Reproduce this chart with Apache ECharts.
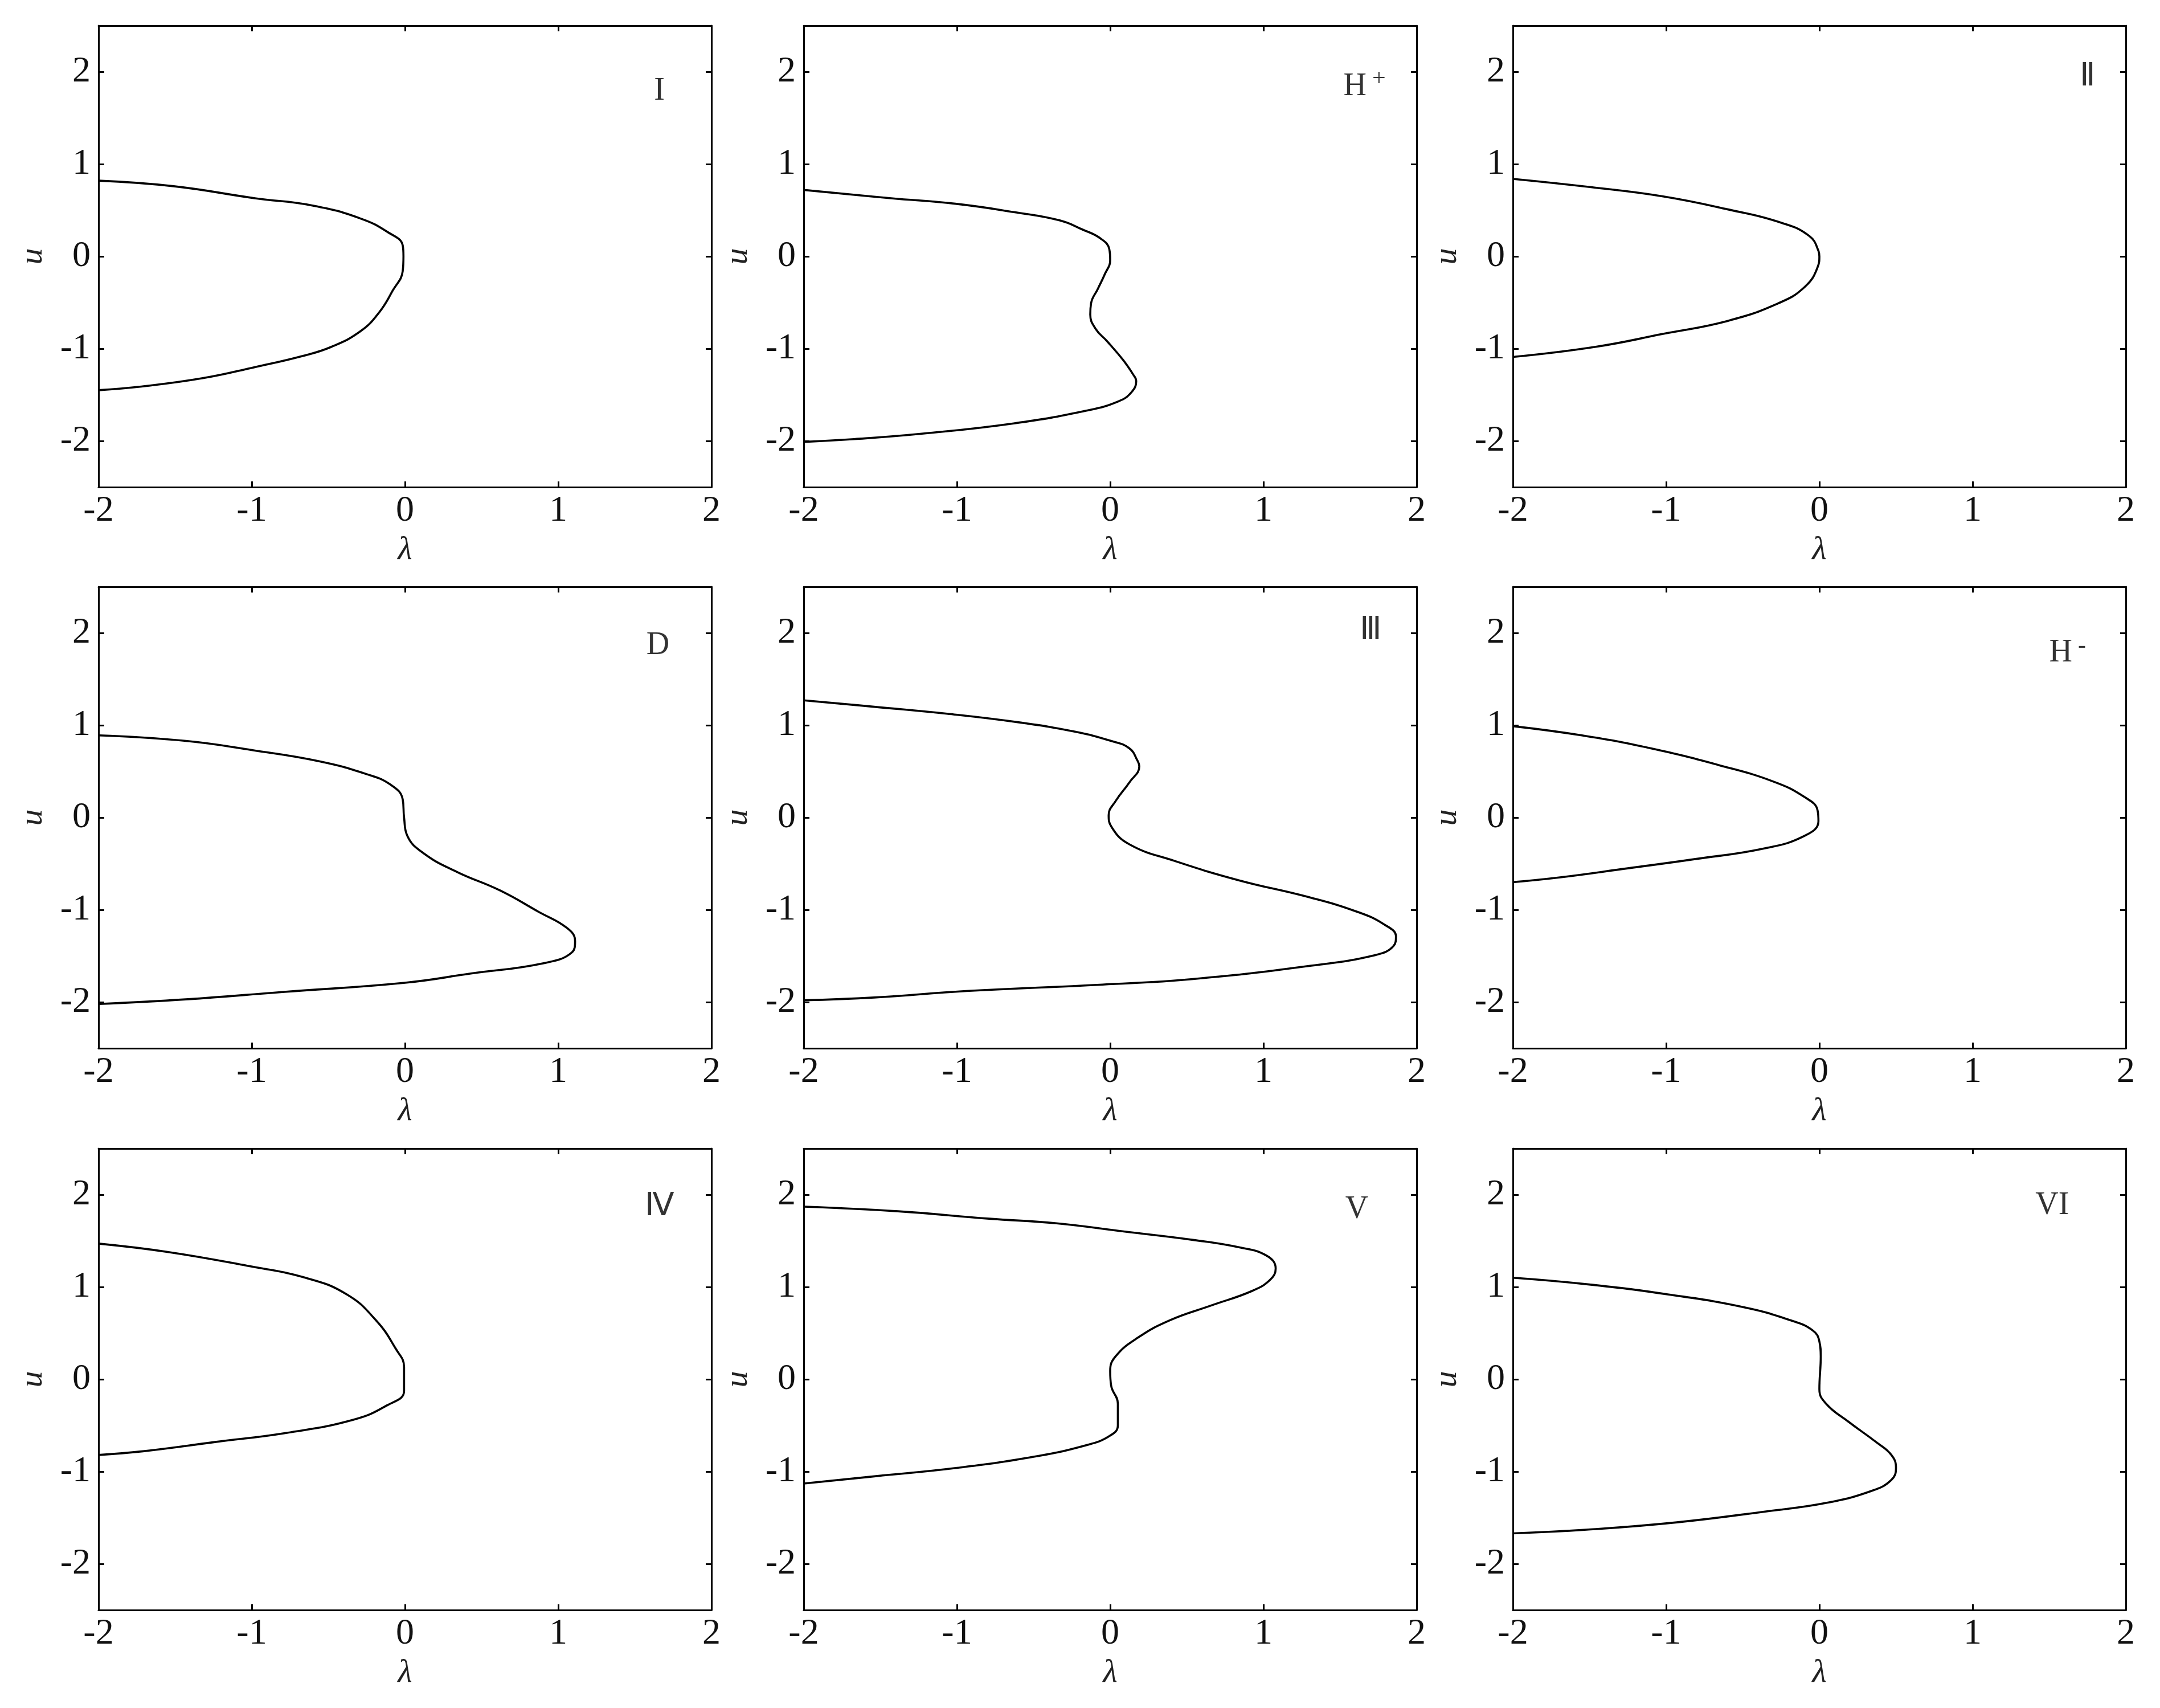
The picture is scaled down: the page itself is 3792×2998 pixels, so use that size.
<!DOCTYPE html>
<html><head><meta charset="utf-8">
<style>html,body{margin:0;padding:0;background:#fff}#c{width:3792px;height:2998px}</style>
<script src="https://cdn.jsdelivr.net/npm/echarts@6/dist/echarts.min.js"></script>
</head><body><div id="c"></div>
<script>
// ---- tick values ----
const lambdaTicks = [-2, -1, 0, 1, 2];
const uTicks = [-2, -1, 0, 1, 2];

// ---- panel labels and their anchor (data units) ----
const panelNames = ['I', 'H+', 'Ⅱ', 'D', 'Ⅲ', 'H-', 'Ⅳ', 'V', 'VI'];
const labelLambda = [1.66, 1.66, 1.75, 1.65, 1.70, 1.62, 1.66, 1.61, 1.52];
const labelU = [1.79, 1.84, 1.94, 1.86, 2.02, 1.78, 1.87, 1.84, 1.88];

// ---- curves: lambda (x) and u (y) ----
const lamI = [-2, -1.51, -0.98, -0.60, -0.29, -0.11, -0.015, -0.01, -0.015, -0.08, -0.17, -0.29, -0.48, -0.67, -0.98, -1.32, -1.72, -2];
const uI   = [0.82, 0.76, 0.63, 0.55, 0.41, 0.26, 0.12, 0, -0.16, -0.37, -0.61, -0.81, -0.98, -1.08, -1.20, -1.32, -1.41, -1.45];

const lamHp = [-2, -1.43, -1.01, -0.63, -0.33, -0.18, -0.065, -0.006, 0, -0.036, -0.08, -0.125, -0.13, -0.095, -0.02, 0.083, 0.15, 0.17, 0.14, 0.055, -0.15, -0.63, -1.22, -1.67, -2];
const uHp   = [0.72, 0.63, 0.57, 0.48, 0.39, 0.29, 0.196, 0.08, -0.04, -0.196, -0.35, -0.51, -0.63, -0.785, -0.92, -1.12, -1.28, -1.35, -1.47, -1.57, -1.67, -1.81, -1.92, -1.98, -2.01];

const lamII = [-2, -1.49, -1.02, -0.60, -0.24, -0.065, -0.006, 0, -0.01, -0.095, -0.27, -0.60, -1.02, -1.46, -2];
const uII   = [0.84, 0.75, 0.65, 0.51, 0.36, 0.22, 0.06, 0, -0.11, -0.33, -0.51, -0.70, -0.84, -0.98, -1.09];

const lamD = [-2, -1.43, -0.995, -0.56, -0.25, -0.093, -0.015, -0.006, 0.015, 0.124, 0.34, 0.62, 0.87, 1.06, 1.11, 1.09, 0.90, 0.43, 0, -0.80, -1.43, -2];
const uD   = [0.89, 0.83, 0.73, 0.61, 0.47, 0.355, 0.197, 0, -0.197, -0.39, -0.59, -0.79, -1.02, -1.20, -1.34, -1.46, -1.58, -1.69, -1.79, -1.89, -1.97, -2.02];

const lamIII = [-2, -1.54, -1.065, -0.59, -0.23, 0.006, 0.125, 0.18, 0.19, 0.125, 0.036, -0.01, 0.006, 0.125, 0.42, 0.84, 1.29, 1.61, 1.79, 1.865, 1.85, 1.73, 1.29, 0.54, -0.05, -0.94, -1.54, -2];
const uIII   = [1.27, 1.20, 1.125, 1.03, 0.93, 0.83, 0.75, 0.61, 0.555, 0.38, 0.18, 0.024, -0.094, -0.29, -0.47, -0.68, -0.86, -1.02, -1.16, -1.29, -1.39, -1.49, -1.61, -1.75, -1.81, -1.88, -1.95, -1.98];

const lamHm = [-2, -1.55, -1.10, -0.66, -0.30, -0.095, -0.012, -0.006, -0.095, -0.36, -0.81, -1.25, -1.70, -2];
const uHm   = [0.99, 0.89, 0.75, 0.57, 0.39, 0.22, 0.08, -0.04, -0.197, -0.335, -0.45, -0.55, -0.65, -0.70];

const lamIV = [-2, -1.55, -1.03, -0.65, -0.38, -0.19, -0.06, -0.006, -0.006, -0.12, -0.34, -0.77, -1.24, -1.71, -2];
const uIV   = [1.47, 1.38, 1.23, 1.10, 0.92, 0.64, 0.33, 0.13, -0.126, -0.285, -0.44, -0.58, -0.68, -0.78, -0.82];

const lamV = [-2, -1.385, -0.79, -0.35, 0.095, 0.54, 0.84, 1.02, 1.08, 1.045, 0.93, 0.66, 0.39, 0.18, 0.036, 0, 0.006, 0.05, 0.05, -0.01, -0.17, -0.50, -1.0, -1.53, -2];
const uV   = [1.87, 1.82, 1.74, 1.69, 1.60, 1.51, 1.43, 1.34, 1.20, 1.08, 0.96, 0.80, 0.64, 0.45, 0.25, 0.09, -0.067, -0.265, -0.50, -0.62, -0.72, -0.84, -0.96, -1.05, -1.13];

const lamVI = [-2, -1.52, -0.99, -0.49, -0.19, -0.044, 0, 0.009, 0, 0.044, 0.19, 0.37, 0.47, 0.50, 0.47, 0.34, 0.044, -0.34, -0.93, -1.52, -2];
const uVI   = [1.10, 1.03, 0.92, 0.78, 0.64, 0.53, 0.41, 0.25, -0.107, -0.265, -0.46, -0.68, -0.82, -0.96, -1.09, -1.21, -1.34, -1.43, -1.55, -1.63, -1.67];

const curves = [[lamI, uI], [lamHp, uHp], [lamII, uII], [lamD, uD], [lamIII, uIII], [lamHm, uHm], [lamIV, uIV], [lamV, uV], [lamVI, uVI]];

// ---- layout (pixels) ----
const colLeft = [173, 1411, 2656];
const rowTop = [45, 1030, 2016];
const plotW = 1076, plotH = 810;

const FONT = 'Liberation Serif';
const lineStyle = { color: '#000', width: 3 };

const grid = [], xAxis = [], yAxis = [], series = [];
for (let i = 0; i < 9; i++) {
  const r = Math.floor(i / 3), c = i % 3;
  grid.push({ left: colLeft[c], top: rowTop[r], width: plotW, height: plotH, containLabel: false });
  const common = {
    type: 'value', gridIndex: i, min: -2, max: 2,
    axisLine: { show: true, onZero: false, lineStyle },
    axisTick: { show: true, inside: true, length: 10, lineStyle, customValues: lambdaTicks },
    splitLine: { show: false }
  };
  xAxis.push(Object.assign({}, common, {
    position: 'bottom',
    name: 'λ', nameLocation: 'middle', nameGap: 82,
    nameTextStyle: { fontFamily: FONT, fontStyle: 'italic', fontSize: 58, color: '#222' },
    axisLabel: { show: true, customValues: lambdaTicks, margin: 10, fontFamily: FONT, fontSize: 64, color: '#111' }
  }));
  xAxis.push(Object.assign({}, common, { position: 'top', axisLabel: { show: false } }));
  const ycommon = {
    type: 'value', gridIndex: i, min: -2.5, max: 2.5,
    axisLine: { show: true, onZero: false, lineStyle },
    axisTick: { show: true, inside: true, length: 10, lineStyle, customValues: uTicks },
    splitLine: { show: false }
  };
  yAxis.push(Object.assign({}, ycommon, {
    position: 'left',
    name: 'u', nameLocation: 'middle', nameGap: 86, nameRotate: 90,
    nameTextStyle: { fontFamily: FONT, fontStyle: 'italic', fontSize: 58, color: '#222' },
    axisLabel: { show: true, customValues: uTicks, margin: 14, fontFamily: FONT, fontSize: 64, color: '#111' }
  }));
  yAxis.push(Object.assign({}, ycommon, { position: 'right', axisLabel: { show: false } }));

  const [lam, u] = curves[i];
  series.push({
    type: 'line', xAxisIndex: 2 * i, yAxisIndex: 2 * i,
    data: lam.map((v, k) => [v, u[k]]),
    showSymbol: false, symbol: 'none', smooth: 0.45,
    lineStyle: { color: '#000', width: 3.6 }, silent: true, z: 3
  });

  const name = panelNames[i];
  let text;
  if (name === 'H+') text = '{m|H}{s|+}';
  else if (name === 'H-') text = '{m|H}{s|-}';
  else text = '{m|' + name + '}';
  series.push({
    type: 'scatter', xAxisIndex: 2 * i, yAxisIndex: 2 * i,
    data: [[labelLambda[i], labelU[i]]],
    symbol: 'circle', symbolSize: 2, itemStyle: { color: 'rgba(255,255,255,0)' }, silent: true, z: 5,
    label: {
      show: true, position: 'inside', formatter: text, color: '#000',
      rich: {
        m: { fontFamily: FONT, fontSize: 56, color: '#000' },
        s: { fontFamily: FONT, fontSize: 42, color: '#000', padding: [0, 0, 26, 10] }
      }
    },
    labelLayout: { hideOverlap: false }
  });
}

const chart = echarts.init(document.getElementById('c'), null, { renderer: 'canvas' });
chart.setOption({ animation: false, backgroundColor: '#fff', grid, xAxis, yAxis, series });
</script>
</body></html>
